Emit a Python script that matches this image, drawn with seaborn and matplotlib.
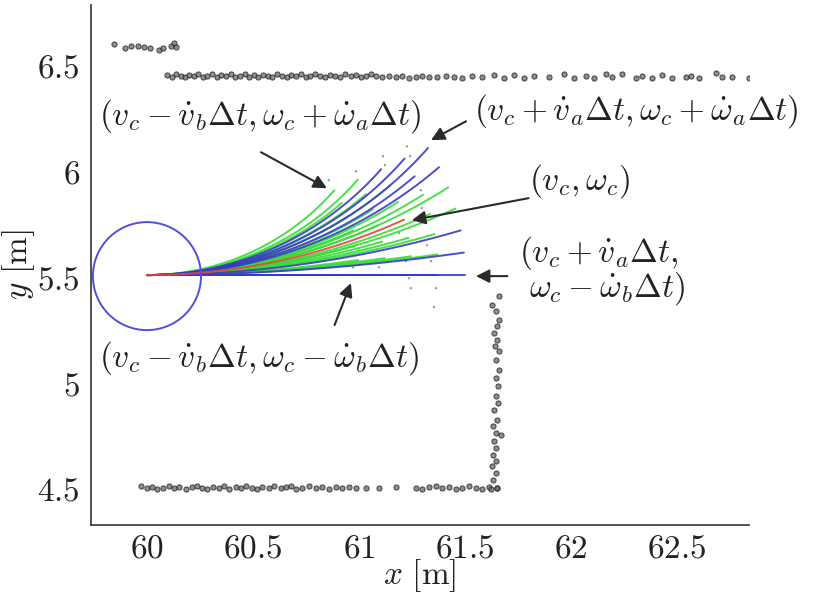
import numpy as np
import pandas as pd
import matplotlib
matplotlib.use("Agg")
import matplotlib.pyplot as plt
from matplotlib.patches import Circle
import seaborn as sns

# ---------------- data ----------------
# laser points: upper-left wall segment
wall_tl_x = [59.844, 59.896, 59.925, 59.958, 59.986, 60.014, 60.057, 60.075, 60.113, 60.127, 60.137]
wall_tl_y = [6.594, 6.575, 6.585, 6.585, 6.580, 6.575, 6.566, 6.575, 6.585, 6.599, 6.580]

# laser points: long upper wall
wall_top_x = [60.094, 60.118, 60.139, 60.160, 60.181, 60.198, 60.224, 60.241, 60.266, 60.283, 60.309,
              60.330, 60.351, 60.373, 60.398, 60.415, 60.441, 60.462, 60.483, 60.505, 60.526, 60.547,
              60.573, 60.590, 60.615, 60.637, 60.662, 60.679, 60.705, 60.726, 60.752, 60.769, 60.794,
              60.816, 60.842, 60.863, 60.889, 60.910, 60.936, 60.962, 60.988, 61.009, 61.035, 61.057,
              61.082, 61.108, 61.142, 61.177, 61.203, 61.238, 61.269, 61.299, 61.330, 61.370, 61.410,
              61.450, 61.486, 61.535, 61.580, 61.639, 61.684, 61.733, 61.778, 61.827, 61.896, 61.969,
              62.014, 62.073, 62.108, 62.167, 62.193, 62.243, 62.307, 62.337, 62.382, 62.431, 62.476,
              62.544, 62.566, 62.606, 62.684, 62.714, 62.759, 62.840]
wall_top_y = [6.448, 6.440, 6.452, 6.444, 6.438, 6.450, 6.443, 6.455, 6.440, 6.447, 6.452,
              6.441, 6.449, 6.444, 6.452, 6.440, 6.446, 6.454, 6.442, 6.448, 6.439, 6.451,
              6.445, 6.441, 6.453, 6.446, 6.440, 6.449, 6.444, 6.452, 6.441, 6.447, 6.455,
              6.443, 6.439, 6.450, 6.446, 6.441, 6.452, 6.444, 6.448, 6.440, 6.446, 6.452,
              6.443, 6.440, 6.446, 6.438, 6.444, 6.436, 6.440, 6.444, 6.438, 6.442, 6.446,
              6.440, 6.436, 6.444, 6.438, 6.448, 6.436, 6.450, 6.434, 6.446, 6.438, 6.452,
              6.436, 6.446, 6.434, 6.456, 6.440, 6.452, 6.434, 6.446, 6.436, 6.450, 6.434,
              6.440, 6.446, 6.434, 6.458, 6.440, 6.442, 6.436]

# laser points: lower wall
wall_bot_x = [59.970, 60.001, 60.025, 60.049, 60.075, 60.104, 60.127, 60.151, 60.183, 60.214, 60.237,
              60.261, 60.284, 60.311, 60.340, 60.363, 60.387, 60.418, 60.442, 60.466, 60.497, 60.520,
              60.544, 60.575, 60.599, 60.631, 60.654, 60.678, 60.701, 60.733, 60.764, 60.796, 60.827,
              60.858, 60.890, 60.921, 60.953, 60.984, 61.032, 61.094, 61.173, 61.267, 61.299, 61.330,
              61.362, 61.393, 61.425, 61.456, 61.487, 61.519, 61.550, 61.582, 61.613, 61.652]
wall_bot_y = [4.508, 4.500, 4.504, 4.497, 4.502, 4.508, 4.499, 4.505, 4.496, 4.503, 4.509,
              4.500, 4.495, 4.505, 4.501, 4.508, 4.497, 4.503, 4.499, 4.507, 4.501, 4.495,
              4.505, 4.500, 4.508, 4.498, 4.503, 4.507, 4.496, 4.502, 4.508, 4.499, 4.504,
              4.497, 4.503, 4.500, 4.506, 4.498, 4.502, 4.500, 4.504, 4.500, 4.496, 4.504,
              4.508, 4.498, 4.504, 4.496, 4.502, 4.508, 4.499, 4.495, 4.503, 4.500]

# laser points: vertical wall
wall_v_x = [61.660, 61.627, 61.646, 61.660, 61.651, 61.637, 61.651, 61.641, 61.660, 61.646, 61.660,
            61.646, 61.656, 61.646, 61.656, 61.637, 61.651, 61.632, 61.646, 61.670, 61.637, 61.646,
            61.632, 61.646, 61.627, 61.646, 61.632, 61.651, 61.623]
wall_v_y = [5.406, 5.363, 5.335, 5.292, 5.264, 5.231, 5.198, 5.170, 5.146, 5.104, 5.057,
            5.019, 4.981, 4.934, 4.901, 4.868, 4.821, 4.792, 4.759, 4.750, 4.722, 4.689,
            4.656, 4.627, 4.604, 4.571, 4.538, 4.500, 4.495]

# faint grey sample dots around the fan
grey_x = [61.226, 61.113, 60.986, 60.858, 61.292, 61.297, 61.189, 61.321, 61.080, 61.222,
          61.340, 60.972, 61.094, 61.245, 61.363, 61.123, 61.241, 61.236, 61.354]
grey_y = [6.113, 6.066, 5.995, 5.953, 5.906, 5.821, 5.703, 5.646, 5.571, 5.571,
          5.571, 5.542, 5.542, 5.443, 5.443, 6.024, 6.066, 5.490, 5.354]

# robot
robot_x, robot_y, robot_r = 60.0, 5.5, 0.255
start_x, start_y = 60.0, 5.505

# dynamic window samples: linear velocities (m over horizon) and heading changes (rad)
v_samples = [1.0, 1.125, 1.25, 1.375, 1.5]
w_samples = [0.0, 0.142, 0.283, 0.425, 0.567, 0.708, 0.85]
# colour class per (w row, v column): G green, B blue, R red (current command)
color_grid = [
    ["G", "B", "G", "B", "B"],
    ["G", "G", "G", "G", "B"],
    ["G", "G", "G", "G", "B"],
    ["G", "G", "R", "G", "G"],
    ["G", "G", "G", "G", "G"],
    ["G", "G", "G", "B", "B"],
    ["G", "G", "B", "B", "B"],
]
class_colors = {"G": "#36dc36", "B": "#3a3ac8", "R": "#e8403a"}

# axes
x_ticks = [60, 60.5, 61, 61.5, 62, 62.5]
y_ticks = [4.5, 5, 5.5, 6, 6.5]
x_lim = (59.736, 62.84)
y_lim = (4.325, 6.78)

# ---------------- build trajectory table ----------------
rows = []
tt = np.linspace(0, 1, 60)
k = 0
order = []
for i, w in enumerate(w_samples):
    for j, v in enumerate(v_samples):
        cls = color_grid[i][j]
        if abs(w) < 1e-9:
            xs = start_x + v * tt
            ys = start_y + 0 * tt
        else:
            xs = start_x + v / w * np.sin(w * tt)
            ys = start_y + v / w * (1 - np.cos(w * tt))
        tid = f"t{k:02d}"
        for a, b in zip(xs, ys):
            rows.append((tid, cls, a, b))
        order.append((tid, cls))
        k += 1
traj = pd.DataFrame(rows, columns=["id", "cls", "x", "y"])
rank = {"G": 0, "B": 1, "R": 2}
hue_order = [t for t, c in sorted(order, key=lambda p: rank[p[1]])]
palette = {t: class_colors[c] for t, c in order}

# ---------------- plot ----------------
sns.set_style("white")
plt.rcParams["mathtext.fontset"] = "cm"

fig = plt.figure(figsize=(8.18, 5.98), dpi=100)
ax = fig.add_axes([91 / 818, 73 / 598, 658 / 818, 520 / 598])

sns.lineplot(data=traj, x="x", y="y", hue="id", units="id", estimator=None, sort=False,
             hue_order=hue_order, palette=palette, legend=False, lw=1.4, alpha=0.9, ax=ax, zorder=2)

sns.scatterplot(x=grey_x, y=grey_y, s=3, color="#9a9a9a", edgecolor="none", ax=ax, legend=False, zorder=1)

for xs, ys in [(wall_tl_x, wall_tl_y), (wall_top_x, wall_top_y), (wall_bot_x, wall_bot_y), (wall_v_x, wall_v_y)]:
    sns.scatterplot(x=xs, y=ys, s=14, color="#6a6a6a", edgecolor="#1a1a1a", linewidth=0.7,
                    alpha=0.75, ax=ax, legend=False, zorder=3)

ax.add_patch(Circle((robot_x, robot_y), robot_r, fill=False, ec="#5050d8", lw=1.4, zorder=2))

# annotations
arrow_kw = dict(arrowstyle="-|>", color="#2a2a2a", lw=1.5, mutation_scale=20, shrinkA=0, shrinkB=0)
arrows = [
    ((60.849, 5.915), (60.538, 6.085)),
    ((61.340, 6.142), (61.505, 6.231)),
    ((61.250, 5.764), (61.800, 5.868)),
    ((61.552, 5.500), (61.700, 5.500)),
    ((60.962, 5.467), (60.885, 5.269)),
]
for tip, tail in arrows:
    ax.annotate("", xy=tip, xytext=tail, arrowprops=arrow_kw, annotation_clip=False, zorder=5)

fs = 24
txt = dict(fontsize=fs, color="#222222", va="center", ha="left", clip_on=False, zorder=6)
ax.text(59.774, 6.255, r"$(v_c - \dot{v}_b\Delta t, \omega_c + \dot{\omega}_a\Delta t)$", **txt)
ax.text(61.542, 6.278, r"$(v_c + \dot{v}_a\Delta t, \omega_c + \dot{\omega}_a\Delta t)$", **txt)
ax.text(61.802, 5.948, r"$(v_c, \omega_c)$", **txt)
ax.text(61.755, 5.608, r"$(v_c + \dot{v}_a\Delta t,$", **txt)
ax.text(61.802, 5.439, r"$\omega_c - \dot{\omega}_b\Delta t)$", **txt)
ax.text(59.774, 5.113, r"$(v_c - \dot{v}_b\Delta t, \omega_c - \dot{\omega}_b\Delta t)$", **txt)

ax.set_xlim(*x_lim)
ax.set_ylim(*y_lim)
ax.set_xticks(x_ticks)
ax.set_yticks(y_ticks)
ax.set_xticklabels([f"${t:g}$" for t in x_ticks])
ax.set_yticklabels([f"${t:g}$" for t in y_ticks])
ax.tick_params(direction="in", length=5, width=1, color="#444444", labelsize=24,
               labelcolor="#222222")
ax.tick_params(axis="x", pad=5)
ax.tick_params(axis="y", pad=8)
for s in ["top", "right"]:
    ax.spines[s].set_visible(False)
for s in ["left", "bottom"]:
    ax.spines[s].set_color("#444444")
    ax.spines[s].set_linewidth(1.3)
ax.set_xlabel(r"$x\ [\mathrm{m}]$", fontsize=24, color="#222222", labelpad=-6)
ax.set_ylabel(r"$y\ [\mathrm{m}]$", fontsize=24, color="#222222", labelpad=0)

fig.savefig("out.png", dpi=100)
